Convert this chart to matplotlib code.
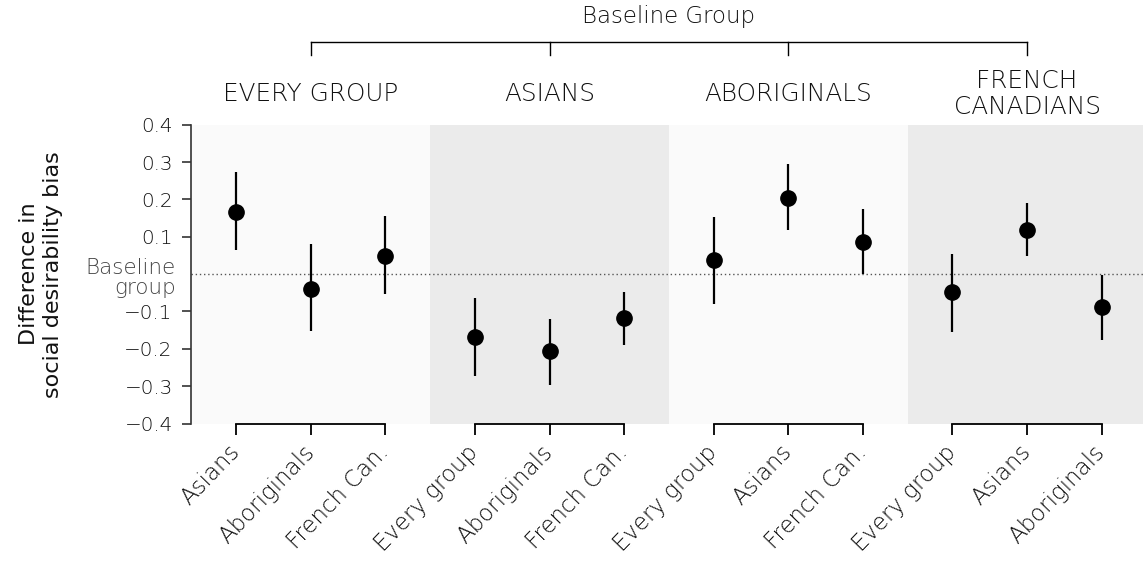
import numpy as np
import matplotlib
matplotlib.use('Agg')
import matplotlib.pyplot as plt

plt.rcParams['font.family'] = ['DejaVu Sans']
plt.rcParams['font.weight'] = 200

# 基线组与比较组
baselines = ['EVERY GROUP', 'ASIANS', 'ABORIGINALS', 'FRENCH\nCANADIANS']
labels = [['Asians', 'Aboriginals', 'French Can.'],
          ['Every group', 'Aboriginals', 'French Can.'],
          ['Every group', 'Asians', 'French Can.'],
          ['Every group', 'Asians', 'Aboriginals']]

# 估计值与置信区间
est = [[0.166, -0.039, 0.048],
       [-0.167, -0.205, -0.118],
       [0.038, 0.204, 0.086],
       [-0.048, 0.118, -0.087]]
lo = [[0.064, -0.153, -0.053],
      [-0.274, -0.296, -0.191],
      [-0.080, 0.119, 0.001],
      [-0.155, 0.048, -0.176]]
hi = [[0.273, 0.080, 0.155],
      [-0.064, -0.120, -0.048],
      [0.153, 0.294, 0.175],
      [0.053, 0.190, -0.002]]

yticks = [-0.4, -0.3, -0.2, -0.1, 0.1, 0.2, 0.3, 0.4]
bg = ['#fafafa', '#ebebeb']
txt = '#111111'

pw = 3.2  # 每个面板宽度
fig = plt.figure(figsize=(11.43, 5.61), dpi=100)
ax = fig.add_axes([0.1675, 0.245, 0.8355, 0.5327])

xs, xl = [], []
for i in range(4):
    x0 = i * pw
    ax.axvspan(x0, x0 + pw, color=bg[i % 2], lw=0, zorder=0)
    px = x0 + 0.6 + np.arange(3)
    e = np.array(est[i])
    yerr = [e - np.array(lo[i]), np.array(hi[i]) - e]
    ax.errorbar(px, e, yerr=yerr, fmt='o', color='black', ms=11,
                elinewidth=1.6, capsize=0, zorder=3)
    # 底部括号
    ax.plot([px[0], px[-1]], [-0.4, -0.4], color='black', lw=1.3,
            clip_on=False, zorder=4)
    # 面板标题
    ax.text(x0 + pw / 2, 0.483, baselines[i], ha='center', va='center',
            fontsize=17.8, color=txt, linespacing=1.1)
    xs.extend(px)
    xl.extend(labels[i])

# 顶部括号
cx = [pw / 2 + i * pw for i in range(4)]
ax.plot([cx[0], cx[-1]], [0.621, 0.621], color='black', lw=1, clip_on=False)
for c in cx:
    ax.plot([c, c], [0.621, 0.586], color='black', lw=1, clip_on=False)
ax.text((cx[0] + cx[-1]) / 2, 0.689, 'Baseline Group', ha='center',
        va='center', fontsize=16.5, color=txt)

ax.axhline(0, color='#555555', ls=(0, (1, 2)), lw=1, zorder=1)

ax.set_xlim(0, 4 * pw)
ax.set_ylim(-0.4, 0.4)
ax.set_yticks(yticks)
ax.set_yticklabels([f'{v:.1f}'.replace('-', '\u2212') for v in yticks])
ax.set_xticks(xs)
ax.set_xticklabels(xl, rotation=46, ha='right', va='center',
                   rotation_mode='anchor', fontsize=16.5, color=txt)
ax.tick_params(axis='x', length=8, width=1.3, color='black', pad=10)
ax.tick_params(axis='y', length=6.5, width=1.2, color='#333333', pad=7,
               labelsize=14.4, labelcolor=txt)
ax.text(-0.21, -0.01, 'Baseline\ngroup', ha='right', va='center',
        fontsize=15.5, color='#444444', linespacing=1.0)

for s in ['top', 'right', 'bottom']:
    ax.spines[s].set_visible(False)
ax.spines['left'].set_color('#333333')
ax.spines['left'].set_linewidth(1.2)

ax.set_ylabel('Difference in\nsocial desirability bias', fontsize=16,
              color=txt, linespacing=1.25)
ax.yaxis.set_label_coords(-0.1345, 0.5)

fig.savefig('out.png', dpi=100)
